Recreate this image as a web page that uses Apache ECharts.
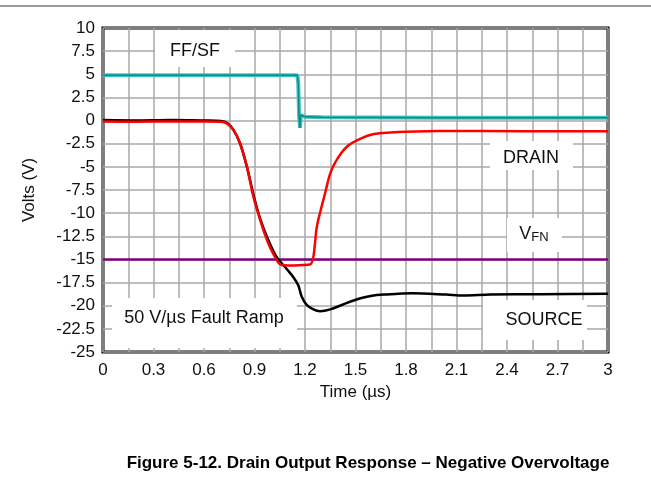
<!DOCTYPE html>
<html>
<head>
<meta charset="utf-8">
<script src="https://cdn.jsdelivr.net/npm/echarts@6/dist/echarts.min.js"></script>
<style>
html,body{margin:0;padding:0;background:#fff;}
#chart{width:651px;height:484px;}
</style>
</head>
<body>
<div id="chart"></div>
<script>
// ---- data (time in µs, voltage in V) ----
var xTickLabels = ['0','0.3','0.6','0.9','1.2','1.5','1.8','2.1','2.4','2.7','3'];
var yTickLabels = ['10','7.5','5','2.5','0','-2.5','-5','-7.5','-10','-12.5','-15','-17.5','-20','-22.5','-25'];

var vfnTime = [0, 3];
var vfnVolts = [-15, -15];

var sourceTime = [0, 0.2, 0.4, 0.6, 0.7, 0.74, 0.775, 0.815, 0.855, 0.895, 0.93, 0.975, 1.03, 1.09, 1.13, 1.16, 1.18, 1.21, 1.25, 1.29, 1.35, 1.45, 1.53, 1.59, 1.67, 1.84, 2.04, 2.14, 2.3, 2.6, 3.0];
var sourceVolts = [0.05, 0.0, 0.05, 0.0, -0.05, -0.3, -1.0, -2.5, -5.0, -8.1, -10.4, -12.6, -14.7, -16.0, -16.9, -17.8, -19.0, -19.9, -20.4, -20.6, -20.4, -19.7, -19.2, -18.95, -18.8, -18.65, -18.8, -18.9, -18.8, -18.75, -18.7];

var drainTime = [0, 0.2, 0.4, 0.6, 0.7, 0.735, 0.775, 0.815, 0.855, 0.893, 0.93, 0.96, 0.99, 1.015, 1.04, 1.06, 1.12, 1.18, 1.23, 1.25, 1.27, 1.30, 1.32, 1.35, 1.39, 1.45, 1.53, 1.61, 1.71, 1.8, 2.0, 2.5, 3.0];
var drainVolts = [-0.1, -0.12, -0.1, -0.1, -0.12, -0.3, -1.0, -2.5, -5.0, -8.2, -10.5, -12.2, -13.6, -14.5, -15.3, -15.6, -15.65, -15.6, -15.55, -14.7, -11.5, -9.2, -7.8, -5.7, -4.2, -2.8, -1.95, -1.45, -1.28, -1.2, -1.13, -1.15, -1.15];

var ffsfTime = [0, 0.5, 1.0, 1.155, 1.16, 1.165, 1.17, 1.175, 1.2, 1.3, 2.0, 3.0];
var ffsfVolts = [4.9, 4.9, 4.9, 4.9, 4.0, 0.5, -0.8, 0.6, 0.4, 0.35, 0.3, 0.3];

function pairs(t, v) { return t.map(function (x, i) { return [x, v[i]]; }); }

var FONT = '"Liberation Sans", Arial, Helvetica, sans-serif';
var gridColor = '#a8a8a8';

var chart = echarts.init(document.getElementById('chart'), null, {renderer: 'canvas'});

var option = {
  animation: false,
  backgroundColor: '#ffffff',
  grid: {left: 103, right: 43, top: 28, bottom: 132, show: true, borderColor: '#000', borderWidth: 3, backgroundColor: 'transparent', containLabel: false},
  xAxis: {
    type: 'value', min: 0, max: 3, interval: 0.3,
    name: 'Time (\u00b5s)', nameLocation: 'middle', nameGap: 29,
    nameTextStyle: {fontFamily: FONT, fontSize: 17, color: '#111'},
    axisLine: {show: false}, axisTick: {show: false},
    axisLabel: {fontFamily: FONT, fontSize: 17, color: '#111', margin: 10,
      formatter: function (v) { var i = Math.round(v / 0.3); return xTickLabels[i] !== undefined ? xTickLabels[i] : ''; }},
    splitLine: {show: true, lineStyle: {color: gridColor, width: 1.5}},
    minorTick: {show: false, splitNumber: 2},
    minorSplitLine: {show: true, lineStyle: {color: gridColor, width: 1.5}}
  },
  yAxis: {
    type: 'value', min: -25, max: 10, interval: 2.5,
    name: 'Volts (V)', nameLocation: 'middle', nameGap: 65, nameRotate: 90,
    nameTextStyle: {fontFamily: FONT, fontSize: 17, color: '#111'},
    axisLine: {show: false}, axisTick: {show: false},
    axisLabel: {fontFamily: FONT, fontSize: 17, color: '#111', margin: 8,
      formatter: function (v) { var i = Math.round((10 - v) / 2.5); return yTickLabels[i] !== undefined ? yTickLabels[i] : ''; }},
    splitLine: {show: true, lineStyle: {color: gridColor, width: 1.5}}
  },
  series: [
    {name: 'VFN', type: 'line', data: pairs(vfnTime, vfnVolts), showSymbol: false, symbol: 'none',
      lineStyle: {color: '#800080', width: 2.5}, z: 2},
    {name: 'SOURCE', type: 'line', data: pairs(sourceTime, sourceVolts), showSymbol: false, symbol: 'none', smooth: 0.3,
      lineStyle: {color: '#000000', width: 2.5}, z: 3},
    {name: 'DRAIN', type: 'line', data: pairs(drainTime, drainVolts), showSymbol: false, symbol: 'none', smooth: 0.3,
      lineStyle: {color: '#ff0000', width: 2.5}, z: 4},
    {name: 'FF/SF', type: 'line', data: pairs(ffsfTime, ffsfVolts), showSymbol: false, symbol: 'none',
      lineStyle: {color: '#3cc6c6', width: 4}, z: 5},
    {name: 'FF/SF core', type: 'line', data: pairs(ffsfTime, ffsfVolts), showSymbol: false, symbol: 'none',
      lineStyle: {color: '#108888', width: 1.5}, z: 6}
  ],
  graphic: [
    {type: 'line', shape: {x1: 0, y1: 6, x2: 651, y2: 6}, style: {stroke: '#7a7a7a', lineWidth: 1.5}, z: 1},
    // white label boxes
    {type: 'rect', shape: {x: 155, y: 30, width: 80, height: 37}, style: {fill: '#fff'}, z: 1},
    {type: 'rect', shape: {x: 490, y: 141, width: 83, height: 29}, style: {fill: '#fff'}, z: 1},
    {type: 'rect', shape: {x: 507, y: 218, width: 55, height: 34}, style: {fill: '#fff'}, z: 1},
    {type: 'rect', shape: {x: 483, y: 300, width: 104, height: 40}, style: {fill: '#fff'}, z: 1},
    {type: 'rect', shape: {x: 112, y: 298, width: 185, height: 50}, style: {fill: '#fff'}, z: 1},
    // label texts
    {type: 'text', x: 195, y: 51, z: 10, style: {text: 'FF/SF', font: '18px ' + FONT, fill: '#111', textAlign: 'center', textVerticalAlign: 'middle'}},
    {type: 'text', x: 531, y: 158, z: 10, style: {text: 'DRAIN', font: '18px ' + FONT, fill: '#111', textAlign: 'center', textVerticalAlign: 'middle'}},
    {type: 'text', x: 534, y: 234, z: 10, style: {text: '{v|V}{s|FN}', textAlign: 'center', textVerticalAlign: 'middle',
      rich: {v: {fontSize: 18, fontFamily: FONT, fill: '#111', color: '#111', verticalAlign: 'bottom'}, s: {fontSize: 13, fontFamily: FONT, color: '#111', fill: '#111', verticalAlign: 'bottom', padding: [6, 0, 0, 0]}}}},
    {type: 'text', x: 544, y: 320, z: 10, style: {text: 'SOURCE', font: '18px ' + FONT, fill: '#111', textAlign: 'center', textVerticalAlign: 'middle'}},
    {type: 'text', x: 204, y: 318, z: 10, style: {text: '50 V/\u00b5s Fault Ramp', font: '18px ' + FONT, fill: '#111', textAlign: 'center', textVerticalAlign: 'middle'}},
    // figure caption
    {type: 'text', x: 368, y: 463, z: 10, style: {text: 'Figure 5-12. Drain Output Response \u2013 Negative Overvoltage',
      font: 'bold 17px "Liberation Sans Narrow", "Arial Narrow", ' + FONT, fill: '#000', textAlign: 'center', textVerticalAlign: 'middle'}}
  ]
};
chart.setOption(option);
</script>
</body>
</html>
